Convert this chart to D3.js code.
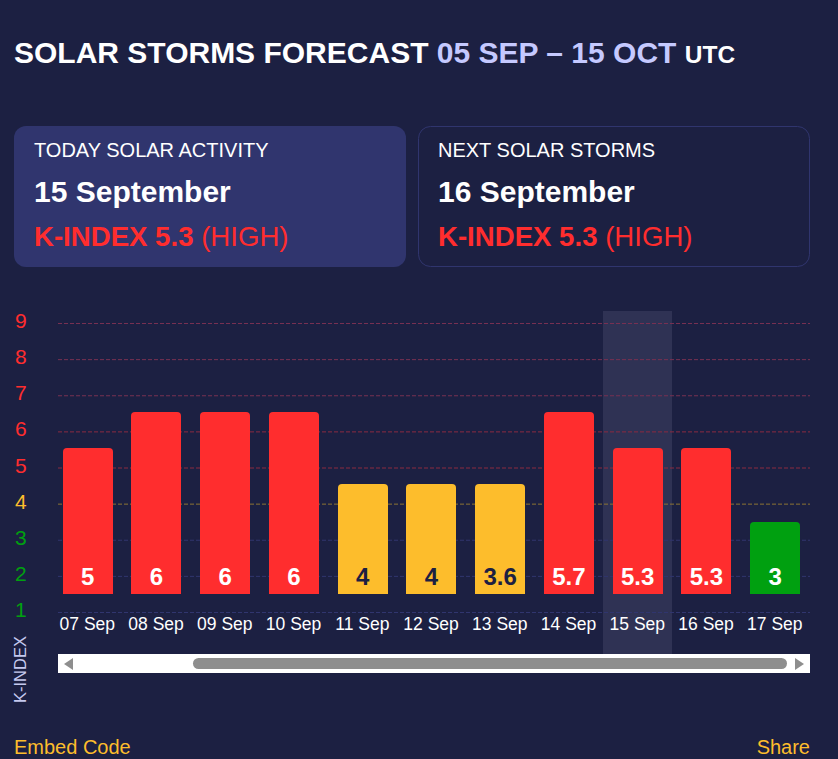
<!DOCTYPE html>
<html><head><meta charset="utf-8">
<script src="https://cdn.jsdelivr.net/npm/d3@7"></script>
<style>
html,body{margin:0;padding:0;background:#1c2042;overflow:hidden}
svg{display:block;font-family:"Liberation Sans",Arial,sans-serif}
</style></head><body>
<svg id="c" width="838" height="759"></svg>
<script>
const dates=["07 Sep","08 Sep","09 Sep","10 Sep","11 Sep","12 Sep","13 Sep","14 Sep","15 Sep","16 Sep","17 Sep"];
const kIndexLabels=["5","6","6","6","4","4","3.6","5.7","5.3","5.3","3"];
const barLevels=[5.55,6.55,6.55,6.55,4.55,4.55,4.55,6.55,5.55,5.55,3.5];
const yTicks=[1,2,3,4,5,6,7,8,9];
const highlighted="15 Sep";

const RED="#ff2d2e",ORANGE="#fdbd2c",GREEN="#00a010",BG="#1c2042",CARD="#30356e";
const svg=d3.select("#c");
svg.append("rect").attr("width",838).attr("height",759).attr("fill",BG);

// title
const title=svg.append("text").attr("x",14).attr("y",63).attr("font-weight",700).attr("font-size",30).attr("fill","#fff");
title.append("tspan").text("SOLAR STORMS FORECAST ");
title.append("tspan").attr("fill","#c5c9ff").text("05 SEP – 15 OCT ");
title.append("tspan").attr("font-size",24.5).text("UTC");

// cards
function card(x,filled,head,date,k,lvl){
  svg.append("rect").attr("x",filled?x:x+.5).attr("y",filled?126:126.5)
    .attr("width",filled?392:391).attr("height",filled?141:140).attr("rx",12)
    .attr("fill",filled?CARD:"none").attr("stroke",filled?"none":CARD);
  svg.append("text").attr("x",x+20).attr("y",156.5).attr("font-size",20).attr("fill","#fff").text(head);
  svg.append("text").attr("x",x+20).attr("y",202).attr("font-size",30).attr("font-weight",700).attr("fill","#fff").text(date);
  const t=svg.append("text").attr("x",x+20).attr("y",246).attr("font-size",27.6).attr("fill",RED);
  t.append("tspan").attr("font-weight",700).text(k+" ");
  t.append("tspan").text(lvl);
}
card(14,true,"TODAY SOLAR ACTIVITY","15 September","K-INDEX 5.3","(HIGH)");
card(418,false,"NEXT SOLAR STORMS","16 September","K-INDEX 5.3","(HIGH)");

// scales
const x=d3.scaleBand().domain(dates).range([53.225,809.475]).paddingInner(0).paddingOuter(0);
const y=d3.scaleLinear().domain([1,9]).range([612.5,323.5]);
const barBase=1.52;
const barW=50;
const tickColor=v=>v>=5?RED:v===4?ORANGE:GREEN;
const gridColor=v=>v>=7?"#773052":v>=5?"#8a2a40":v===4?"#8d7434":"#30356e";

// highlight
svg.append("rect").attr("x",Math.round(x(highlighted))).attr("y",311).attr("width",Math.round(x.bandwidth())+0).attr("height",343).attr("fill","#2f3254");

// y axis + grid
const yG=svg.append("g").attr("transform","translate(58,0)")
  .call(d3.axisRight(y).offset(0).tickValues(yTicks).tickSize(752).tickFormat(d3.format("d")));
yG.select(".domain").remove();
yG.selectAll(".tick line").attr("stroke",gridColor).attr("stroke-dasharray","4 2");
yG.selectAll(".tick text").attr("x",-43).attr("dy",4.5).attr("text-anchor","start")
  .attr("font-size",21).attr("font-family","Liberation Sans").attr("fill",tickColor);

// bars
const barLeft=i=>Math.round(x(dates[i])+x.bandwidth()/2-barW/2);
const barPath=(d,i)=>{
  const l=barLeft(i),r=l+barW,t=Math.round(y(d)),b=Math.round(y(barBase)),c=4;
  return `M${l},${b}V${t+c}Q${l},${t} ${l+c},${t}H${r-c}Q${r},${t} ${r},${t+c}V${b}Z`;
};
const barColor=d=>d>5?RED:d>4?ORANGE:GREEN;
svg.append("g").selectAll("path").data(barLevels).join("path").attr("d",barPath).attr("fill",barColor);
svg.append("g").selectAll("text").data(barLevels).join("text")
  .attr("x",(d,i)=>x(dates[i])+x.bandwidth()/2).attr("y",y(barBase)-8.6)
  .attr("text-anchor","middle").attr("font-size",24).attr("font-weight",700)
  .attr("fill",d=>barColor(d)===ORANGE?BG:"#fff").text((d,i)=>kIndexLabels[i]);

// x axis
const xG=svg.append("g").attr("transform","translate(0,629.5)")
  .call(d3.axisBottom(x).offset(0).tickSize(0).tickPadding(0));
xG.select(".domain").remove();
xG.selectAll(".tick text").attr("dy",0).attr("y",0).attr("dx",-.3).attr("font-size",17.5).attr("font-family","Liberation Sans").attr("fill","#fff");

// axis title
svg.append("text").attr("transform","translate(26,703) rotate(-90)").attr("font-size",16.5).attr("fill","#c5c9ef").text("K-INDEX");

// scrollbar
svg.append("rect").attr("x",58).attr("y",654).attr("width",752).attr("height",19).attr("fill","#fff");
svg.append("rect").attr("x",193).attr("y",658).attr("width",594).attr("height",11).attr("rx",5.5).attr("fill","#8e8e8e");
svg.append("path").attr("d","M73,658V670L64,664Z").attr("fill","#8e8e8e");
svg.append("path").attr("d","M795,658V670L804,664Z").attr("fill","#8e8e8e");

// footer
svg.append("text").attr("x",14).attr("y",754).attr("font-size",20).attr("fill",ORANGE).text("Embed Code");
svg.append("text").attr("x",810).attr("y",754).attr("text-anchor","end").attr("font-size",20).attr("fill",ORANGE).text("Share");
</script>
</body></html>
